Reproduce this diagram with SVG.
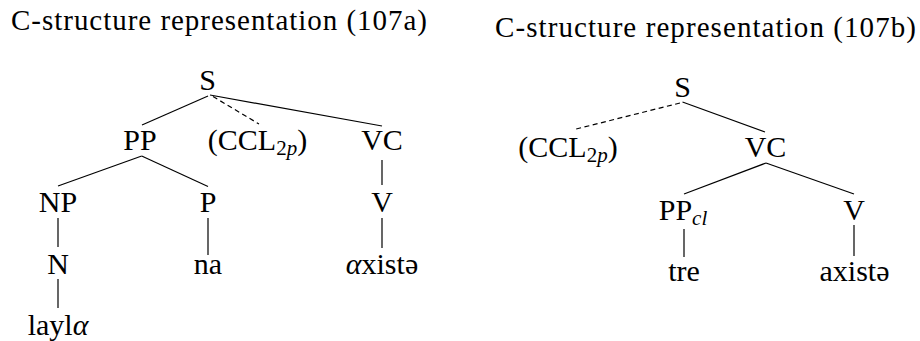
<svg xmlns="http://www.w3.org/2000/svg" width="920" height="341" viewBox="0 0 920 341">
  <style>
    .t { font-family: "Liberation Serif", "Times New Roman", serif; font-size: 29px; fill: #000; }
    .lbl { font-family: "Liberation Serif", "Times New Roman", serif; font-size: 30px; text-anchor: middle; fill: #000; }
    .sub { font-size: 21px; }
    .it { font-style: italic; }
    .edge { stroke: #000; stroke-width: 1.2; fill: none; }
    .dash { stroke-dasharray: 5 3.5; }
  </style>
  <rect width="920" height="341" fill="#fff"/>

  <g id="title-a"><text class="t" x="11" y="30" textLength="416" lengthAdjust="spacing">C-structure representation (107a)</text></g>
  <g id="title-b"><text class="t" x="495" y="37" textLength="421" lengthAdjust="spacing">C-structure representation (107b)</text></g>

  <g id="connectors">
    <line class="edge" x1="208" y1="96" x2="142" y2="125"/>
    <line class="edge dash" x1="213" y1="96.5" x2="259" y2="124"/>
    <line class="edge" x1="210" y1="95" x2="382" y2="126"/>
    <line class="edge" x1="141.7" y1="156" x2="58" y2="186"/>
    <line class="edge" x1="141.7" y1="156" x2="208" y2="186.5"/>
    <line class="edge" x1="382" y1="160" x2="382" y2="185"/>
    <line class="edge" x1="58" y1="218" x2="58" y2="247"/>
    <line class="edge" x1="208" y1="218" x2="208" y2="255"/>
    <line class="edge" x1="382" y1="218" x2="382" y2="248"/>
    <line class="edge" x1="58" y1="279" x2="58" y2="308"/>
    <line class="edge dash" x1="680" y1="103" x2="575" y2="129.3"/>
    <line class="edge" x1="682.5" y1="102" x2="765" y2="132"/>
    <line class="edge" x1="766" y1="163" x2="684" y2="194"/>
    <line class="edge" x1="766" y1="163" x2="854" y2="194"/>
    <line class="edge" x1="684" y1="229" x2="684" y2="257"/>
    <line class="edge" x1="854" y1="225" x2="854" y2="256"/>
  </g>

  <g id="a-S"><text class="lbl" x="207.5" y="90">S</text></g>
  <g id="a-PP"><text class="lbl" x="140" y="150">PP</text></g>
  <g id="a-CCL"><text class="lbl" x="257.5" y="150">(CCL<tspan class="sub" dy="5">2</tspan><tspan class="sub it">p</tspan><tspan dy="-5">)</tspan></text></g>
  <g id="a-VC"><text class="lbl" x="382" y="150">VC</text></g>
  <g id="a-NP"><text class="lbl" x="58" y="212">NP</text></g>
  <g id="a-P"><text class="lbl" x="208" y="212">P</text></g>
  <g id="a-V"><text class="lbl" x="382" y="212">V</text></g>
  <g id="a-N"><text class="lbl" x="58" y="274">N</text></g>
  <g id="a-na"><text class="lbl" x="208" y="274">na</text></g>
  <g id="a-axiste"><text class="lbl" x="382" y="274"><tspan class="it">α</tspan>xistə</text></g>
  <g id="a-layla"><text class="lbl" x="58" y="335">layl<tspan class="it">α</tspan></text></g>

  <g id="b-S"><text class="lbl" x="682.5" y="97">S</text></g>
  <g id="b-CCL"><text class="lbl" x="568" y="157">(CCL<tspan class="sub" dy="5">2</tspan><tspan class="sub it">p</tspan><tspan dy="-5">)</tspan></text></g>
  <g id="b-VC"><text class="lbl" x="765.5" y="157">VC</text></g>
  <g id="b-PPcl"><text class="lbl" x="683" y="220">PP<tspan class="sub it" dy="5">cl</tspan></text></g>
  <g id="b-V"><text class="lbl" x="854" y="220">V</text></g>
  <g id="b-tre"><text class="lbl" x="684" y="281">tre</text></g>
  <g id="b-axiste"><text class="lbl" x="854.5" y="281">axistə</text></g>
</svg>
